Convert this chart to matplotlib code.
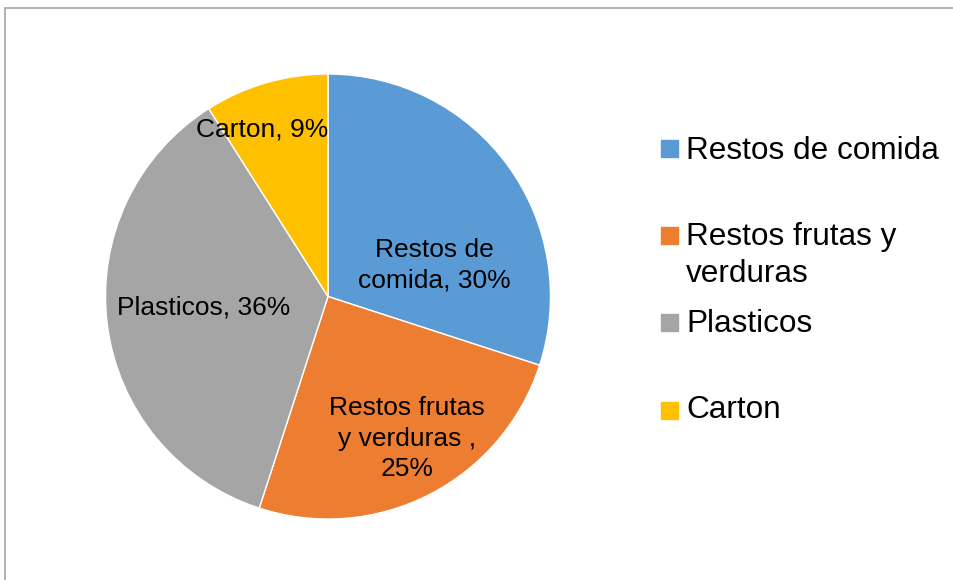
import matplotlib.pyplot as plt
from matplotlib.patches import Rectangle

plt.rcParams['font.family'] = ['Liberation Sans', 'DejaVu Sans']

# data
categories = ["Restos de comida", "Restos frutas y verduras ", "Plasticos", "Carton"]
values = [30, 25, 36, 9]
colors = ["#5B9BD5", "#ED7D31", "#A5A5A5", "#FFC000"]

# wrapped text as shown in the chart
pie_label_lines = [["Restos de", "comida, 30%"],
                   ["Restos frutas", "y verduras ,", "25%"],
                   ["Plasticos, 36%"],
                   ["Carton, 9%"]]
legend_lines = [["Restos de comida"], ["Restos frutas y", "verduras"], ["Plasticos"], ["Carton"]]

W, H = 954, 580
fig = plt.figure(figsize=(W / 100, H / 100), dpi=100)

# outer frame (runs off the right and bottom edges)
fig.patches.append(Rectangle((5 / W, -0.1), 1.2, 1 - 8 / H + 0.1, transform=fig.transFigure,
                             fill=False, edgecolor="#A6A6A6", linewidth=1.2))

cx, cy, r = 328, 296.5, 222.5
ax = fig.add_axes([(cx - r) / W, (H - cy - r) / H, 2 * r / W, 2 * r / H])
ax.pie(values, colors=colors, startangle=90, counterclock=False,
       wedgeprops=dict(edgecolor="white", linewidth=1))
ax.set_xlim(-1, 1)
ax.set_ylim(-1, 1)
ax.set_aspect("equal")
ax.axis("off")

# label anchors (first baseline, data units of the pie axes)
label_pos = [(0.476, 0.178), (0.355, -0.533), (-0.560, -0.083), (-0.294, 0.721)]
for lines, (x, y) in zip(pie_label_lines, label_pos):
    for i, line in enumerate(lines):
        ax.annotate(line, xy=(x, y), xytext=(0, -i * 22), textcoords="offset points",
                    ha="center", va="baseline", fontsize=19, color="black")

# legend, laid out like the original
leg_base = [159, 245, 332, 418]
leg_box_top = [140, 227, 314, 402]
for lines, col, b, t in zip(legend_lines, colors, leg_base, leg_box_top):
    fig.patches.append(Rectangle((661 / W, 1 - (t + 17) / H), 17 / W, 17 / H,
                                 transform=fig.transFigure, color=col))
    for i, line in enumerate(lines):
        fig.text(686 / W, 1 - (b + i * 37) / H, line, fontsize=22.7,
                 ha="left", va="baseline", color="black")

fig.savefig("out.png", dpi=100)
